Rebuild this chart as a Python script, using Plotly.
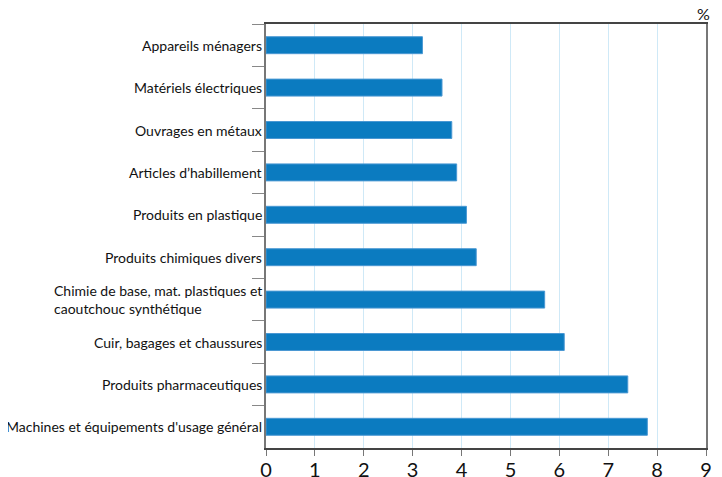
import plotly.graph_objects as go

categories = [
    "Appareils ménagers",
    "Matériels électriques",
    "Ouvrages en métaux",
    "Articles d’habillement",
    "Produits en plastique",
    "Produits chimiques divers",
    "Chimie de base, mat. plastiques et<br>caoutchouc synthétique",
    "Cuir, bagages et chaussures",
    "Produits pharmaceutiques",
    "Machines et équipements d'usage général",
]
values = [3.2, 3.6, 3.8, 3.9, 4.1, 4.3, 5.7, 6.1, 7.4, 7.8]
x_ticks = [0, 1, 2, 3, 4, 5, 6, 7, 8, 9]
unit_label = "%"

FONT = "Lato"

fig = go.Figure()
fig.add_trace(go.Bar(
    y=categories,
    x=values,
    orientation="h",
    marker=dict(color="#0b7bc0", line=dict(color="#4a98d3", width=1)),
    hoverinfo="x+y",
))

annotations = []
for c in categories:
    annotations.append(dict(
        x=0, xref="paper", y=c, yref="y", text=c, showarrow=False,
        xanchor="right", align="left", xshift=-2,
        font=dict(family=FONT, size=14, color="#111111"),
    ))
annotations.append(dict(
    x=1, xref="paper", y=1, yref="paper", text=unit_label, showarrow=False,
    xanchor="right", yanchor="middle", yshift=11, xshift=6,
    font=dict(family=FONT, size=16, color="#111111"),
))

# page body has an 8px default margin: figure sized so that it ends at the window edge
fig.update_layout(
    width=714, height=469,
    margin=dict(l=258, r=16, t=16, b=29, autoexpand=False),
    paper_bgcolor="white", plot_bgcolor="white",
    showlegend=False,
    bargap=0.6,
    annotations=annotations,
    xaxis=dict(
        range=[0, 9], tickvals=x_ticks, ticktext=[str(t) for t in x_ticks],
        showgrid=True, gridcolor="#cfe9f7", gridwidth=1,
        showline=True, linecolor="#444444", linewidth=1.5, mirror=True,
        ticks="outside", ticklen=6, tickcolor="#777777",
        ticklabelstandoff=-3,
        tickfont=dict(family=FONT, size=20, color="#111111"),
        zeroline=False, fixedrange=True, automargin=False,
    ),
    yaxis=dict(
        autorange="reversed", type="category",
        showticklabels=False,
        showline=True, linecolor="#777777", linewidth=1.5, mirror=True,
        ticks="outside", ticklen=12, tickcolor="#888888", tickson="boundaries",
        showgrid=False, zeroline=False, fixedrange=True, automargin=False,
    ),
)

fig.write_html("out.html")
